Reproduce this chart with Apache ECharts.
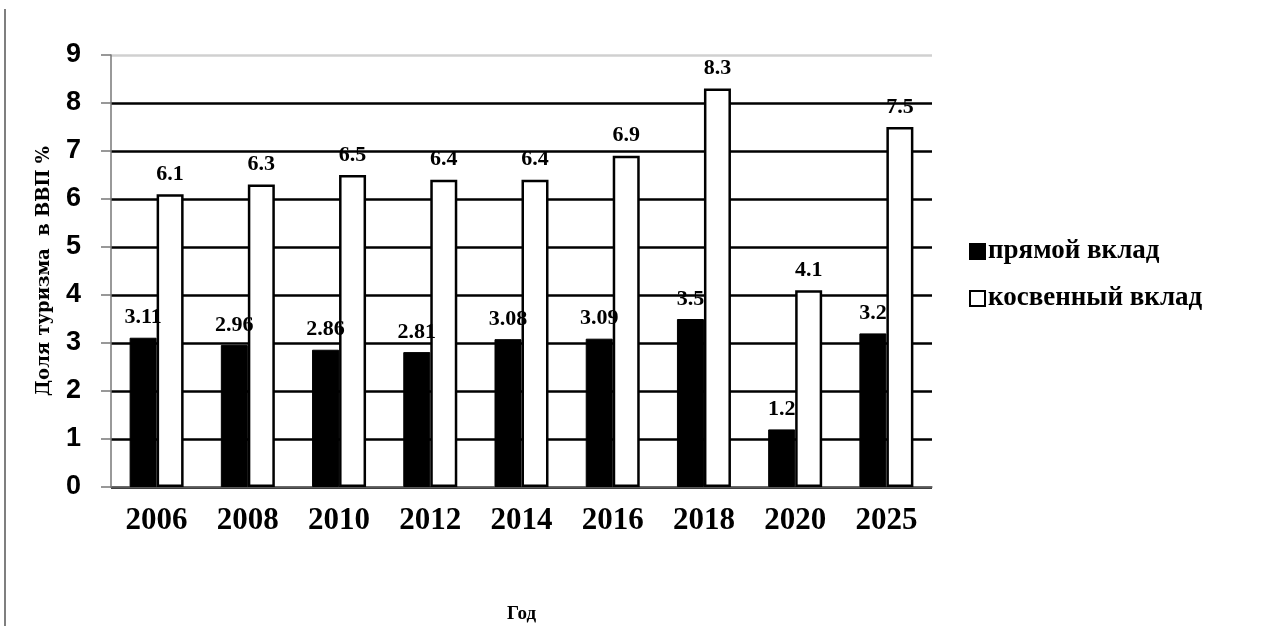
<!DOCTYPE html>
<html>
<head>
<meta charset="utf-8">
<script src="https://cdn.jsdelivr.net/npm/echarts@6/dist/echarts.min.js"></script>
<style>
  html, body { margin: 0; padding: 0; background: #fff; }
  #chart { width: 1279px; height: 626px; }
</style>
</head>
<body>
<div id="chart"></div>
<script>
  // данные с рисунка
  var years = ['2006', '2008', '2010', '2012', '2014', '2016', '2018', '2020', '2025']
  var directShare = [3.11, 2.96, 2.86, 2.81, 3.08, 3.09, 3.5, 1.2, 3.2]
  var indirectShare = [6.1, 6.3, 6.5, 6.4, 6.4, 6.9, 8.3, 4.1, 7.5]
  var seriesNames = ['прямой вклад', 'косвенный вклад']

  var serif = '"Liberation Serif", "Times New Roman", serif'
  var sans = '"Liberation Sans", Arial, sans-serif'

  var gridColors = []
  for (var i = 0; i < 9; i++) gridColors.push('#000')
  gridColors.push('#d0d0d0')

  var chart = echarts.init(document.getElementById('chart'))
  var labelStyle = {
    show: true,
    position: 'top',
    distance: 9,
    color: '#000',
    fontFamily: serif,
    fontWeight: 'bold',
    fontSize: 22
  }
  var option = {
    animation: false,
    backgroundColor: '#fff',
    grid: { left: 111, right: 347, top: 55, bottom: 139, outerBoundsMode: 'none', containLabel: false },
    legend: {
      orient: 'vertical',
      left: 964,
      top: 233,
      itemWidth: 15,
      itemHeight: 15,
      itemGap: 20,
      icon: 'rect',
      textStyle: { fontFamily: serif, fontWeight: 'bold', fontSize: 27, color: '#000', padding: [0, 0, 0, -2] },
      data: seriesNames
    },
    xAxis: {
      type: 'category',
      data: years,
      name: 'Год',
      nameLocation: 'middle',
      nameGap: 118,
      nameTextStyle: { fontFamily: serif, fontWeight: 'bold', fontSize: 19, color: '#000' },
      axisLine: { lineStyle: { color: '#777', width: 1.5 } },
      axisTick: { length: 8, lineStyle: { color: '#777', width: 1.5 } },
      axisLabel: { margin: 18, color: '#000', fontFamily: serif, fontWeight: 'bold', fontSize: 31 }
    },
    yAxis: {
      type: 'value',
      min: 0,
      max: 9,
      interval: 1,
      name: 'Доля туризма  в ВВП %',
      nameLocation: 'middle',
      nameRotate: 90,
      nameGap: 58,
      nameTextStyle: { fontFamily: '"DejaVu Serif", serif', fontWeight: 'bold', fontSize: 18, color: '#000' },
      axisLine: { show: true, lineStyle: { color: '#777', width: 1.5 } },
      axisTick: { show: true, length: 10, lineStyle: { color: '#777', width: 1.5 } },
      axisLabel: { margin: 30, color: '#000', fontFamily: sans, fontWeight: 'bold', fontSize: 27 },
      splitLine: { lineStyle: { color: gridColors, width: 2.5 } }
    },
    series: [
      {
        name: seriesNames[0],
        type: 'bar',
        data: directShare,
        barWidth: 27,
        barGap: '0%',
        itemStyle: { color: '#000', borderColor: '#000', borderWidth: 1 },
        label: labelStyle
      },
      {
        name: seriesNames[1],
        type: 'bar',
        data: indirectShare,
        barWidth: 27,
        itemStyle: { color: '#fff', borderColor: '#000', borderWidth: 2.5 },
        label: labelStyle
      }
    ],
    graphic: [
      {
        type: 'line',
        shape: { x1: 5, y1: 9, x2: 5, y2: 626 },
        style: { stroke: '#555', lineWidth: 1.5 }
      }
    ]
  }
  chart.setOption(option)
</script>
</body>
</html>
